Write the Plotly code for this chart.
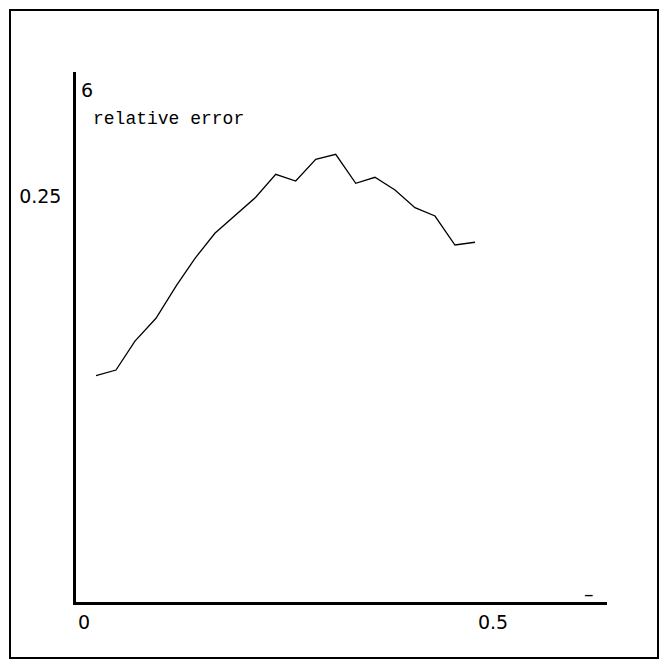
import plotly.graph_objects as go

# page is drawn with an 8px body margin, so figure is sized to fit the window
W, H = 660, 661
OFF = 8

# data
x_vals = [0.0147, 0.0391, 0.0623, 0.0880, 0.1133, 0.1357, 0.1600, 0.1855, 0.2099, 0.2344,
          0.2588, 0.2833, 0.3077, 0.3322, 0.3557, 0.3802, 0.4046, 0.4291, 0.4535, 0.4780]
y_vals = [0.1396, 0.1431, 0.1609, 0.1749, 0.1953, 0.2117, 0.2271, 0.2383, 0.2492, 0.2633,
          0.2592, 0.2725, 0.2756, 0.2578, 0.2615, 0.2537, 0.2428, 0.2377, 0.2199, 0.2216]
x_ticks = [0, 0.5]
x_ticktext = ["0", "0.5"]
y_ticks = [0.25]
y_ticktext = ["0.25"]
y_label = "relative error"
y_arrow = "6"
x_arrow = "–"

def px(x):
    return (x - OFF) / W

def py(y):
    return 1 - (y - OFF) / H

# axis-range values at the plot-area edges (x: 0 -> 84px, 0.5 -> 493px; y: 0 -> 603px, 0.25 -> 196px)
x_lo = (76 - 84) / 818
x_hi = (607 - 84) / 818
y_lo = (603 - 602) / 1628
y_hi = (603 - 72) / 1628

fig = go.Figure()
fig.add_trace(go.Scatter(x=x_vals, y=y_vals, mode="lines",
                         line=dict(color="black", width=1.3), showlegend=False,
                         hoverinfo="skip"))

fig.update_layout(
    width=W, height=H,
    margin=dict(l=0, r=0, t=0, b=0),
    paper_bgcolor="white", plot_bgcolor="white",
    xaxis=dict(domain=[px(76), px(607)], range=[x_lo, x_hi],
               showline=True, linecolor="black", linewidth=2.5,
               showgrid=False, zeroline=False, ticks="",
               tickvals=x_ticks, ticktext=x_ticktext,
               tickfont=dict(family="DejaVu Sans", size=19, color="black"),
               ticklabelstandoff=1),
    yaxis=dict(domain=[py(602), py(72)], range=[y_lo, y_hi],
               showline=True, linecolor="black", linewidth=2.5,
               showgrid=False, zeroline=False, ticks="",
               tickvals=y_ticks, ticktext=y_ticktext,
               tickfont=dict(family="DejaVu Sans", size=19, color="black"),
               ticklabelstandoff=8),
    shapes=[dict(type="rect", xref="paper", yref="paper",
                 x0=px(10), x1=px(658), y0=py(658), y1=py(10),
                 line=dict(color="black", width=2))],
    annotations=[
        dict(xref="paper", yref="paper", x=px(79), y=py(90), text=y_arrow,
             showarrow=False, xanchor="left", yanchor="middle",
             font=dict(family="DejaVu Sans", size=19, color="black")),
        dict(xref="paper", yref="paper", x=px(91), y=py(119), text=y_label,
             showarrow=False, xanchor="left", yanchor="middle",
             font=dict(family="Liberation Mono", size=18, color="black")),
        dict(xref="paper", yref="paper", x=px(589), y=py(594), text=x_arrow,
             showarrow=False, xanchor="center", yanchor="middle",
             font=dict(family="DejaVu Sans", size=19, color="black")),
    ],
)

fig.write_html("out.html")
